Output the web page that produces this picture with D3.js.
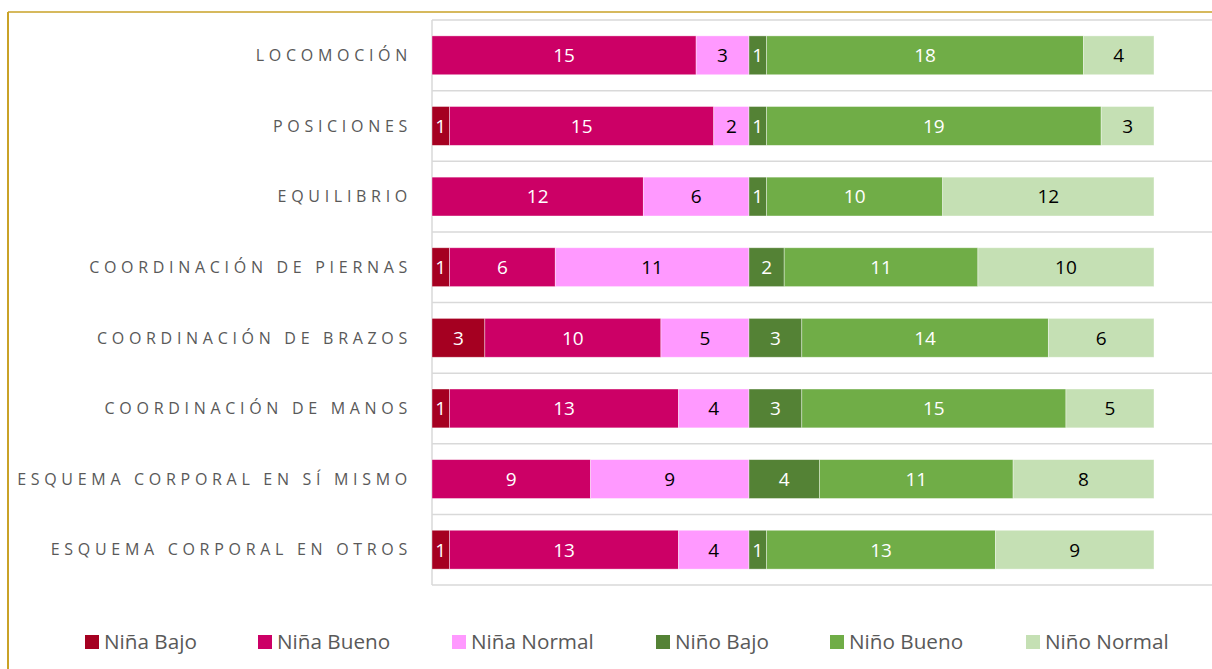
<!DOCTYPE html>
<html lang="es">
  <head>
    <meta charset="UTF-8" />
    <title>Psicomotricidad por sexo</title>
    <script src="https://d3js.org/d3.v7.min.js"></script>
    <style>
      body { margin: 0; background: #fff; }
      svg { display: block; font-family: "Open Sans", sans-serif; }
    </style>
  </head>
  <body>
    <svg width="1212" height="669"></svg>
    <script>
      // categories (top to bottom)
      const categories = [
        "LOCOMOCIÓN",
        "POSICIONES",
        "EQUILIBRIO",
        "COORDINACIÓN DE PIERNAS",
        "COORDINACIÓN DE BRAZOS",
        "COORDINACIÓN DE MANOS",
        "ESQUEMA CORPORAL EN SÍ MISMO",
        "ESQUEMA CORPORAL EN OTROS",
      ];

      const seriesNames = ["Niña Bajo", "Niña Bueno", "Niña Normal", "Niño Bajo", "Niño Bueno", "Niño Normal"];
      const seriesColors = ["#a50021", "#cc0066", "#ff99ff", "#548235", "#70ad47", "#c5e0b4"];
      const labelColors = ["#fff", "#fff", "#000", "#fff", "#fff", "#000"];

      // values per series, same order as categories
      const ninaBajo = [0, 1, 0, 1, 3, 1, 0, 1];
      const ninaBueno = [15, 15, 12, 6, 10, 13, 9, 13];
      const ninaNormal = [3, 2, 6, 11, 5, 4, 9, 4];
      const ninoBajo = [1, 1, 1, 2, 3, 3, 4, 1];
      const ninoBueno = [18, 19, 10, 11, 14, 15, 11, 13];
      const ninoNormal = [4, 3, 12, 10, 6, 5, 8, 9];

      const allSeries = [ninaBajo, ninaBueno, ninaNormal, ninoBajo, ninoBueno, ninoNormal];

      const svg = d3.select("svg");
      const W = 1212, H = 669;
      const plotLeft = 432, plotTop = 20, plotBottom = 585;

      // frame (gold lines on top/left)
      svg.append("line").attr("x1", 8).attr("x2", W).attr("y1", 12).attr("y2", 12)
        .attr("stroke", "#c9a227").attr("stroke-width", 1.5);
      svg.append("line").attr("x1", 8).attr("x2", 8).attr("y1", 12).attr("y2", H)
        .attr("stroke", "#c9a227").attr("stroke-width", 2);

      const x = d3.scaleLinear().domain([0, 41]).range([plotLeft, 1154]);
      const y = d3.scaleBand().domain(categories).range([plotTop, plotBottom]).paddingInner(0.45).paddingOuter(0.225);

      // horizontal gridlines between categories
      const step = (plotBottom - plotTop) / categories.length;
      svg.append("g").selectAll("line")
        .data(d3.range(categories.length + 1))
        .join("line")
        .attr("x1", plotLeft).attr("x2", W)
        .attr("y1", (d) => plotTop + d * step).attr("y2", (d) => plotTop + d * step)
        .attr("stroke", "#d9d9d9").attr("stroke-width", 1.5);

      svg.append("line").attr("x1", plotLeft).attr("x2", plotLeft).attr("y1", plotTop).attr("y2", plotBottom)
        .attr("stroke", "#d9d9d9").attr("stroke-width", 1.5);

      // build stack table
      const table = categories.map((c, i) => {
        const row = { cat: c };
        seriesNames.forEach((s, k) => (row[s] = allSeries[k][i]));
        return row;
      });
      const stacked = d3.stack().keys(seriesNames)(table);

      const groups = svg.append("g").selectAll("g")
        .data(stacked)
        .join("g")
        .attr("fill", (d, i) => seriesColors[i]);

      groups.selectAll("rect")
        .data((d) => d.filter((p) => p[1] - p[0] > 0))
        .join("rect")
        .attr("x", (d) => x(d[0]))
        .attr("y", (d) => y(d.data.cat))
        .attr("width", (d) => x(d[1]) - x(d[0]))
        .attr("height", y.bandwidth())
        .attr("stroke", "rgba(255,255,255,0.5)")
        .attr("stroke-width", 0.75);

      groups.each(function (d, i) {
        d3.select(this).selectAll("text")
          .data(d.filter((p) => p[1] - p[0] > 0))
          .join("text")
          .attr("x", (p) => (x(p[0]) + x(p[1])) / 2)
          .attr("y", (p) => y(p.data.cat) + y.bandwidth() / 2)
          .attr("dy", "0.36em")
          .attr("text-anchor", "middle")
          .attr("fill", labelColors[i])
          .attr("font-size", 19)
          .text((p) => p[1] - p[0]);
      });

      // category labels
      svg.append("g").selectAll("text")
        .data(categories)
        .join("text")
        .attr("x", 412)
        .attr("y", (d) => y(d) + y.bandwidth() / 2)
        .attr("dy", "0.36em")
        .attr("text-anchor", "end")
        .attr("fill", "#595959")
        .attr("font-size", 16)
        .attr("letter-spacing", "4.7px")
        .text((d) => d);

      // legend
      const legendX = [85, 258, 452, 656, 830, 1026];
      const legend = svg.append("g").selectAll("g")
        .data(seriesNames)
        .join("g")
        .attr("transform", (d, i) => `translate(${legendX[i]},642)`);
      legend.append("rect")
        .attr("x", 0).attr("y", -7).attr("width", 14).attr("height", 14)
        .attr("fill", (d, i) => seriesColors[i]);
      legend.append("text")
        .attr("x", 19).attr("dy", "0.36em")
        .attr("fill", "#595959")
        .attr("font-size", 20.7)
        .text((d) => d);
    </script>
  </body>
</html>
